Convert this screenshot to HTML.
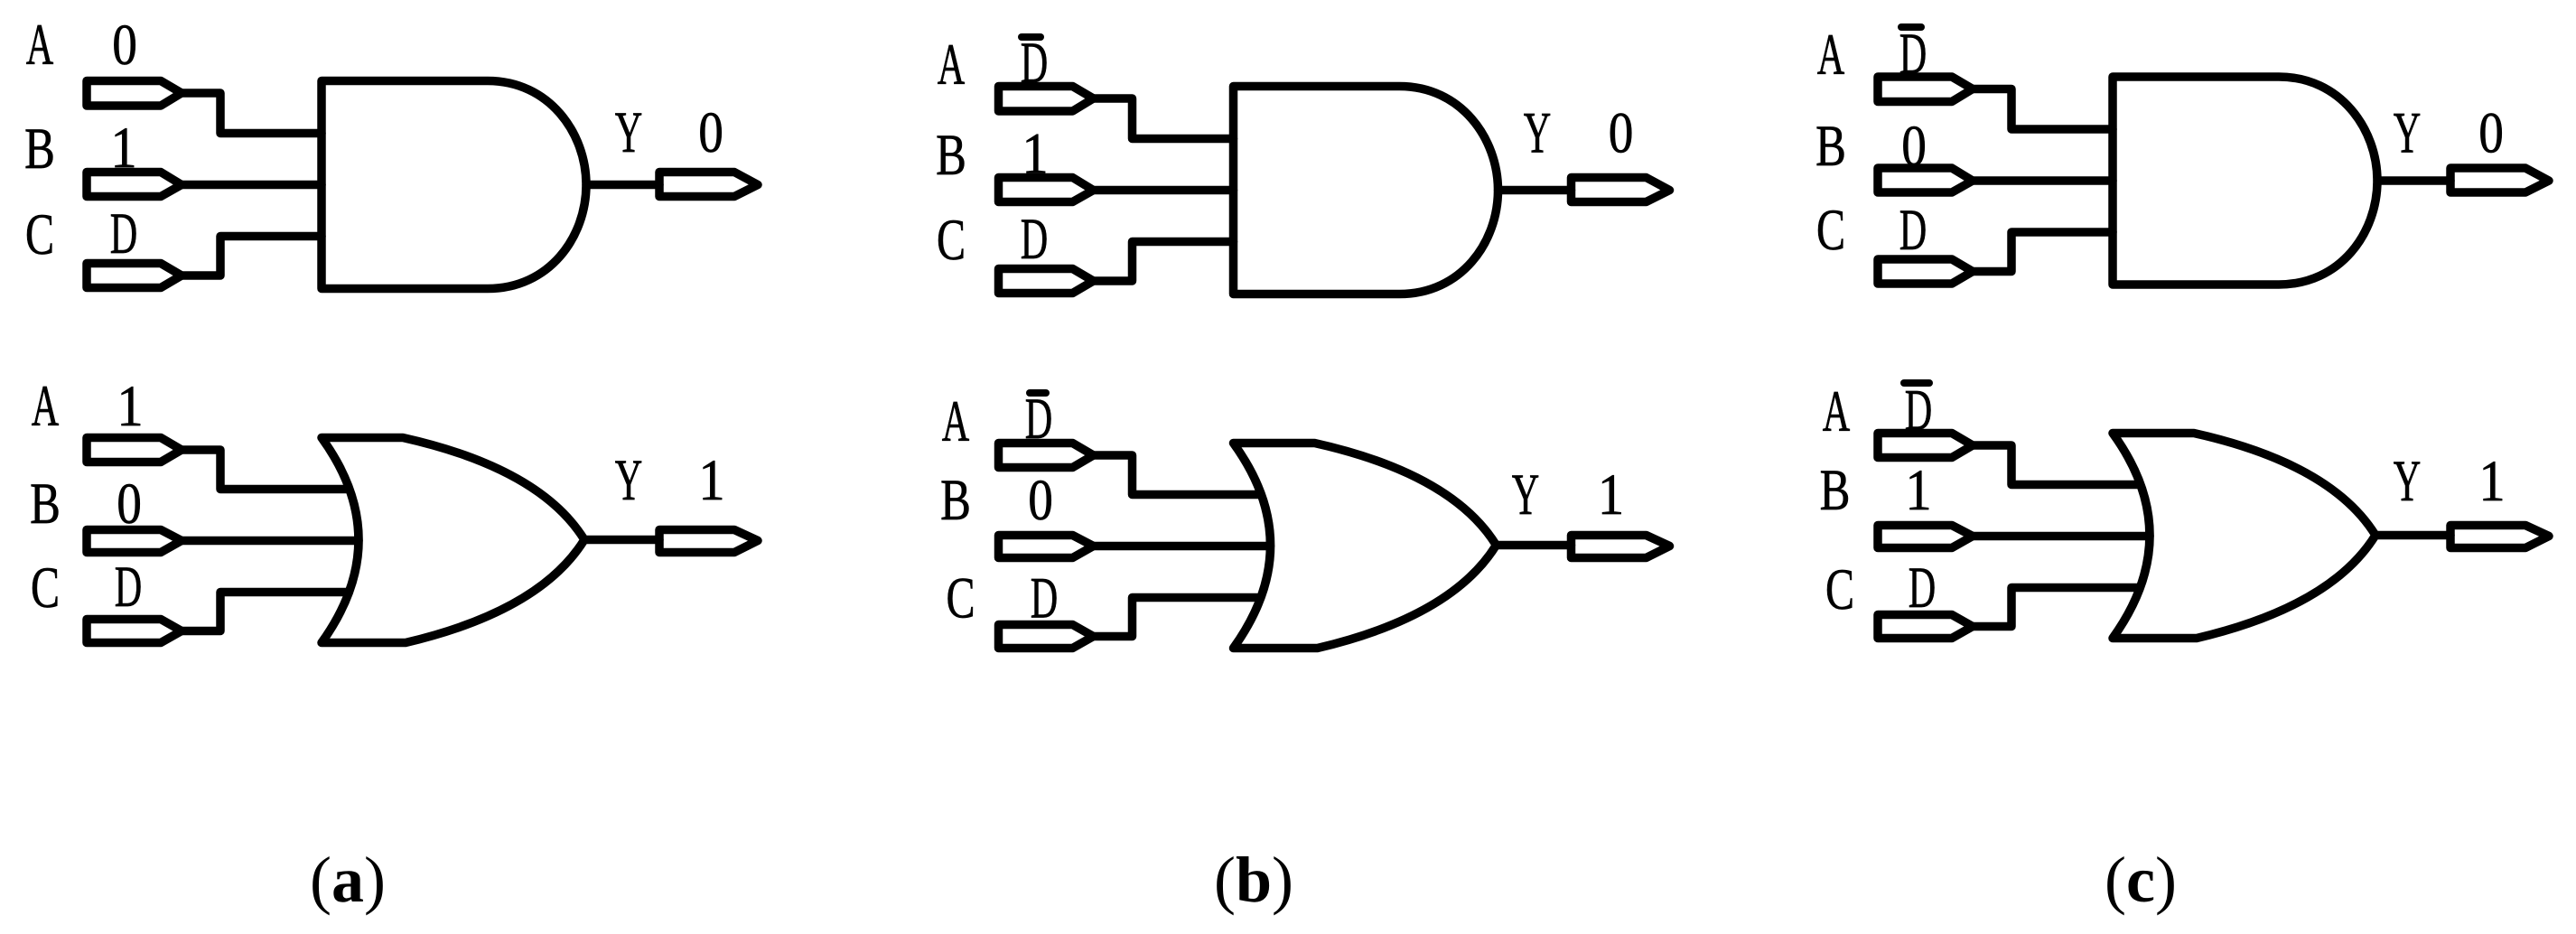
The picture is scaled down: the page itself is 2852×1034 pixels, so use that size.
<!DOCTYPE html>
<html>
<head>
<meta charset="utf-8">
<style>
html,body{margin:0;padding:0;background:#fff;width:2852px;height:1034px;overflow:hidden}
svg{display:block}
text{font-family:"Liberation Serif",serif;font-size:65px;fill:#000;text-anchor:middle;stroke:#000;stroke-width:.7}
.cap{font-size:72px;stroke-width:0}
.cap tspan{font-weight:bold}
.s{fill:none;stroke:#000;stroke-width:9.5;stroke-linejoin:round;stroke-linecap:round}
</style>
</head>
<body>
<svg width="2852" height="1034" viewBox="0 0 2852 1034" xmlns="http://www.w3.org/2000/svg">
<defs>
<g id="andg" class="s">
<path d="M356 92H540C608 92 649 150 649 207C649 265 608 322 540 322H356Z"/>
<path d="M96 92H178L201 105.500L178 119.500H96Z"/>
<path d="M96 193H178L201 207L178 220H96Z"/>
<path d="M96 294H178L201 307.500L178 321H96Z"/>
<path d="M201 105.500H244V150H356"/>
<path d="M201 207H356"/>
<path d="M201 307.500H244V264H356"/>
<path d="M649 207H730"/>
<path d="M730 193H813L839 207L813 220H730Z"/>
</g>
<g id="org" class="s">
<path d="M356 486H446Q598 520 647 599Q598 678 449 713H356Q438 599 356 486Z"/>
<path d="M96 486H178L201 499.500L178 513H96Z"/>
<path d="M96 588H178L201 600L178 613H96Z"/>
<path d="M96 687H178L201 700L178 713H96Z"/>
<path d="M201 499.500H244V543H384"/>
<path d="M201 600H397"/>
<path d="M201 700H244V657H384"/>
<path d="M647 599H730"/>
<path d="M730 588H813L839 600L813 613H730Z"/>
</g>
</defs>

<use href="#andg" transform="translate(0 -2.500)"/>
<use href="#org" transform="translate(0 -1.500)"/>
<use href="#andg" transform="translate(1009.500 3.500)"/>
<use href="#org" transform="translate(1009.500 4.500)"/>
<use href="#andg" transform="translate(1983 -7)"/>
<use href="#org" transform="translate(1983 -6.500)"/>

<!-- bars over D -->
<g class="s" style="stroke-width:8">
<path d="M1131 41H1152"/>
<path d="M1140 435H1158"/>
<path d="M2105 30H2127"/>
<path d="M2108 424H2136"/>
</g>

<g transform="translate(0 -1)">
<!-- panel a top -->
<text transform="translate(44 72) scale(.65 1)">A</text>
<text transform="translate(138 72) scale(.85 1)">0</text>
<text transform="translate(44 187) scale(.78 1)">B</text>
<text transform="translate(137 186) scale(.9 1)">1</text>
<text transform="translate(44 282) scale(.74 1)">C</text>
<text transform="translate(137 281) scale(.65 1)">D</text>
<text transform="translate(696 169) scale(.65 1)">Y</text>
<text transform="translate(787 169) scale(.85 1)">0</text>

<!-- panel a bottom -->
<text transform="translate(50 472) scale(.65 1)">A</text>
<text transform="translate(144 472) scale(.9 1)">1</text>
<text transform="translate(50 580) scale(.78 1)">B</text>
<text transform="translate(143 580) scale(.85 1)">0</text>
<text transform="translate(50 673) scale(.74 1)">C</text>
<text transform="translate(142 672) scale(.65 1)">D</text>
<text transform="translate(696 554) scale(.65 1)">Y</text>
<text transform="translate(788 554) scale(.9 1)">1</text>
<text class="cap" x="385" y="999">(<tspan>a</tspan>)</text>

<!-- panel b top -->
<text transform="translate(1053 94) scale(.65 1)">A</text>
<text transform="translate(1145 92) scale(.65 1)">D</text>
<text transform="translate(1053 194) scale(.78 1)">B</text>
<text transform="translate(1146 192.500) scale(.9 1)">1</text>
<text transform="translate(1053 288) scale(.74 1)">C</text>
<text transform="translate(1145 287) scale(.65 1)">D</text>
<text transform="translate(1702 169.500) scale(.65 1)">Y</text>
<text transform="translate(1794.500 169.500) scale(.85 1)">0</text>

<!-- panel b bottom -->
<text transform="translate(1058 489) scale(.65 1)">A</text>
<text transform="translate(1150 486) scale(.65 1)">D</text>
<text transform="translate(1058 576) scale(.78 1)">B</text>
<text transform="translate(1152 576) scale(.85 1)">0</text>
<text transform="translate(1063.500 684.500) scale(.74 1)">C</text>
<text transform="translate(1156 684.500) scale(.65 1)">D</text>
<text transform="translate(1689 570) scale(.65 1)">Y</text>
<text transform="translate(1783.500 570) scale(.9 1)">1</text>
<text class="cap" x="1388" y="999">(<tspan>b</tspan>)</text>

<!-- panel c top -->
<text transform="translate(2027 83) scale(.65 1)">A</text>
<text transform="translate(2118 82) scale(.65 1)">D</text>
<text transform="translate(2027 184) scale(.78 1)">B</text>
<text transform="translate(2119 184) scale(.85 1)">0</text>
<text transform="translate(2027 277) scale(.74 1)">C</text>
<text transform="translate(2118 277) scale(.65 1)">D</text>
<text transform="translate(2665 169.500) scale(.65 1)">Y</text>
<text transform="translate(2758 169.500) scale(.85 1)">0</text>

<!-- panel c bottom -->
<text transform="translate(2033 478) scale(.65 1)">A</text>
<text transform="translate(2124 476.500) scale(.65 1)">D</text>
<text transform="translate(2031.500 565) scale(.78 1)">B</text>
<text transform="translate(2124 565) scale(.9 1)">1</text>
<text transform="translate(2037 675) scale(.74 1)">C</text>
<text transform="translate(2128 673) scale(.65 1)">D</text>
<text transform="translate(2665 555) scale(.65 1)">Y</text>
<text transform="translate(2759 555) scale(.9 1)">1</text>
<text class="cap" x="2370" y="999">(<tspan>c</tspan>)</text>
</g>
</svg>
</body>
</html>
